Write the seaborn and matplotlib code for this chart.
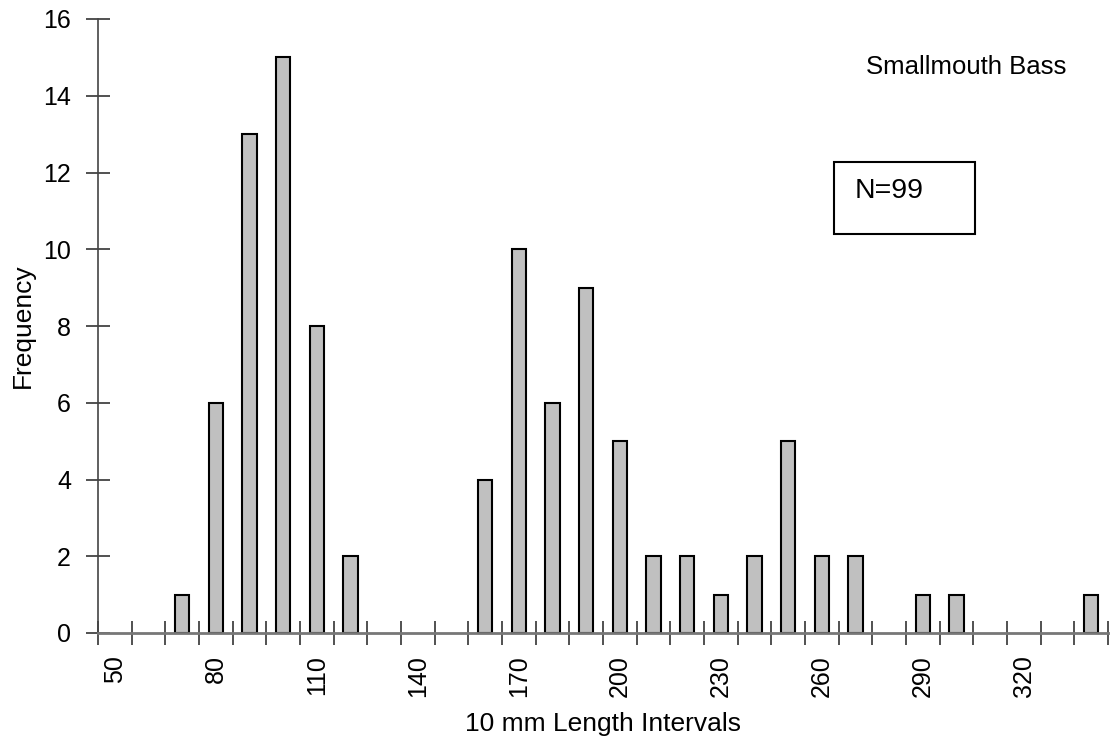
import numpy as np
import pandas as pd
import matplotlib
matplotlib.use("Agg")
import matplotlib.pyplot as plt
import seaborn as sns
from matplotlib.patches import Rectangle

# Data
intervals = list(range(50, 350, 10))
freq_map = {70: 1, 80: 6, 90: 13, 100: 15, 110: 8, 120: 2,
            160: 4, 170: 10, 180: 6, 190: 9, 200: 5, 210: 2, 220: 2,
            230: 1, 240: 2, 250: 5, 260: 2, 270: 2, 290: 1, 300: 1, 340: 1}
frequencies = [freq_map.get(v, 0) for v in intervals]
tick_labels = [str(v) for v in range(50, 330, 30)]

sns.set_theme(style="white")
plt.rcParams['font.family'] = ['Liberation Sans', 'DejaVu Sans']
plt.rcParams['text.color'] = 'black'
plt.rcParams['axes.labelcolor'] = 'black'
plt.rcParams['xtick.color'] = 'black'
plt.rcParams['ytick.color'] = 'black'

df = pd.DataFrame({"interval": [str(v) for v in intervals], "freq": frequencies})

fig = plt.figure(figsize=(11.19, 7.51), dpi=100)
ax = fig.add_axes([98/1119, 1-633/751, (1108-98)/1119, (633-19)/751])

sns.barplot(data=df, x="interval", y="freq", order=df["interval"], ax=ax,
            color="#c0c0c0", saturation=1, width=0.42,
            edgecolor="black", linewidth=1.5)
for p in ax.patches:
    if p.get_height() == 0:
        p.set_visible(False)

ax.set_xlim(-0.5, len(intervals) - 0.5)
ax.set_ylim(0, 16)
ax.set_yticks(range(0, 17, 2))
ax.set_yticklabels([str(v) for v in range(0, 17, 2)], fontsize=18)

label_pos = [intervals.index(int(t)) for t in tick_labels]
ax.set_xticks(label_pos)
ax.set_xticklabels(tick_labels, rotation=90, fontsize=18)
ax.set_xticks(np.arange(-0.5, len(intervals), 1.0), minor=True)
ax.tick_params(axis='x', which='both', bottom=True)
ax.tick_params(axis='y', which='both', left=True)
ax.tick_params(axis='x', which='major', length=0, pad=16)
ax.tick_params(axis='x', which='minor', length=17, direction='inout', width=1.2, color='#333333')
ax.tick_params(axis='y', which='major', length=17, direction='inout', width=1.2, color='#333333', pad=11)

for s in ['top', 'right']:
    ax.spines[s].set_visible(False)
ax.spines['bottom'].set_color('#777777')
ax.spines['bottom'].set_linewidth(2)
ax.spines['left'].set_color('#444444')
ax.spines['left'].set_linewidth(1.2)

ax.set_xlabel("10 mm Length Intervals", fontsize=19, labelpad=11)
ax.set_ylabel("Frequency", fontsize=19, labelpad=6)

fig.text(866/1119, 1-67/751, "Smallmouth Bass", fontsize=18.5, ha='left', va='center')
fig.patches.append(Rectangle((834/1119, 1-234/751), (975-834)/1119, (234-162)/751,
                             transform=fig.transFigure, fill=False,
                             edgecolor='black', linewidth=1.5))
fig.text(855/1119, 1-191/751, "N=99", fontsize=20.5, ha='left', va='center')

fig.savefig("out.png", dpi=100)
